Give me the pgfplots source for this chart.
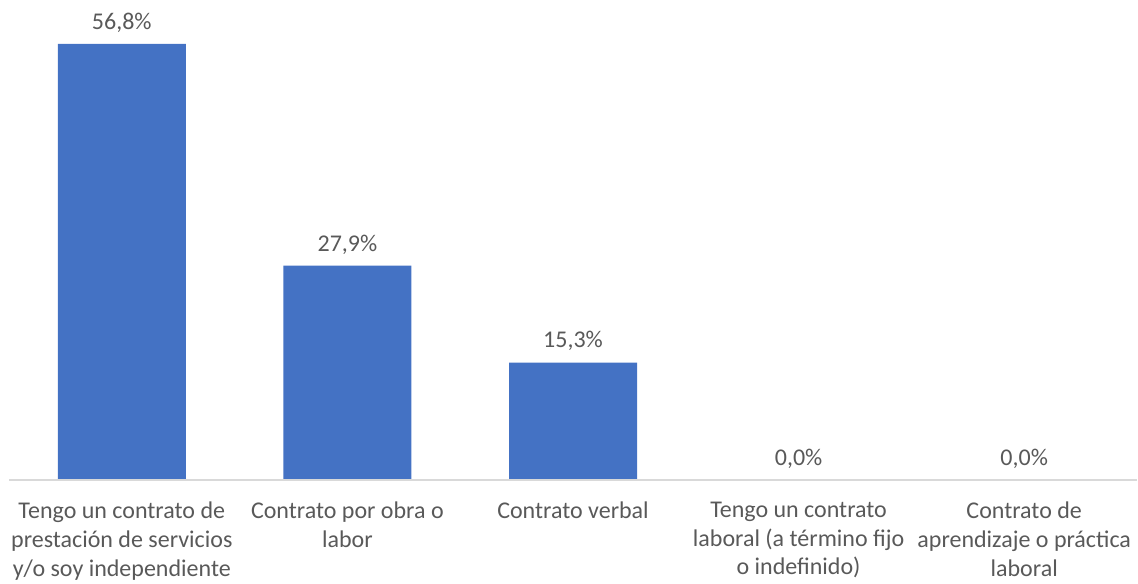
\documentclass[border=0pt]{standalone}
\usepackage{pgfplots}
\pgfplotsset{compat=1.18}
\usepackage{fontspec}
\setmainfont{Carlito}
\definecolor{barblue}{HTML}{4472C4}
\definecolor{txtgray}{HTML}{595959}
\definecolor{axgray}{HTML}{D9D9D9}
\begin{document}
\begin{tikzpicture}
\begin{axis}[
  name=ax,
  scale only axis,
  width=1128pt, height=480pt,
  xmin=-0.5, xmax=4.5,
  ymin=0, ymax=62.5,
  axis lines*=left,
  axis on top,
  y axis line style={draw=none},
  x axis line style={draw=axgray, line width=1.5pt},
  ytick=\empty,
  xtick=data,
  xtick style={draw=none},
  xticklabels={{Tengo un contrato de\\prestación de servicios\\y/o soy independiente},
               {Contrato por obra o\\labor},
               {Contrato verbal},
               {Tengo un contrato\\laboral (a término fijo\\o indefinido)},
               {Contrato de\\aprendizaje o práctica\\laboral}},
  xticklabel style={align=center, font=\fontsize{24}{28.8}\selectfont, text=txtgray, anchor=north, yshift=-14pt},
  ybar, bar width=128pt,
  /pgf/number format/assume math mode=true,
  nodes near coords={\pgfmathprintnumber[fixed, fixed zerofill, precision=1, use comma, assume math mode=true]{\pgfplotspointmeta}\%},
  every node near coord/.append style={font=\fontsize{24}{29}\selectfont, text=txtgray, yshift=8pt},
  clip=false,
]
\addplot[fill=barblue, draw=none] coordinates {(0,56.8) (1,27.9) (2,15.3) (3,0) (4,0)};
\end{axis}
\pgfresetboundingbox
\path ([xshift=-9pt,yshift=-103pt]ax.south west) rectangle ([xshift=1pt]ax.north east);
\end{tikzpicture}
\end{document}
